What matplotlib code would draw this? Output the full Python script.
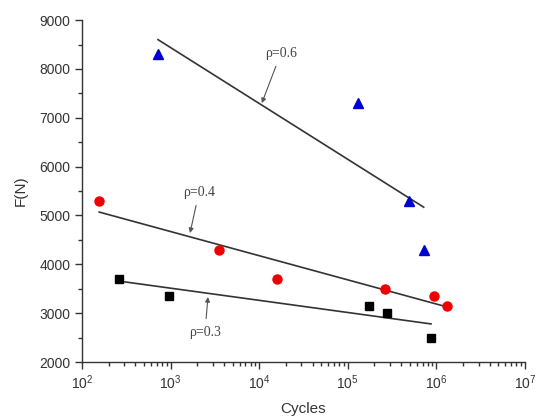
import matplotlib
matplotlib.use("Agg")
import matplotlib.pyplot as plt
from matplotlib.ticker import LogLocator, MultipleLocator, NullFormatter

# data
cycles_06 = [720, 1.3e5, 4.9e5, 7.2e5]
force_06 = [8300, 7300, 5300, 4300]
cycles_04 = [156, 3500, 1.58e4, 2.6e5, 9.4e5, 1.32e6]
force_04 = [5300, 4300, 3700, 3500, 3350, 3150]
cycles_03 = [262, 960, 1.74e5, 2.8e5, 8.7e5]
force_03 = [3700, 3350, 3150, 3000, 2500]

# fitted lines (end points)
fit_x_06 = [720, 7.2e5]
fit_y_06 = [8600, 5170]
fit_x_04 = [156, 1.19e6]
fit_y_04 = [5070, 3150]
fit_x_03 = [305, 8.7e5]
fit_y_03 = [3640, 2780]

plt.rcParams['font.family'] = ['Liberation Sans', 'DejaVu Sans']

fig = plt.figure(figsize=(5.4, 4.19), dpi=100)
ax = fig.add_axes([0.152, 0.136, 0.820, 0.816])

line_kw = dict(color='#333333', linewidth=1.2)
ax.plot(fit_x_06, fit_y_06, **line_kw)
ax.plot(fit_x_04, fit_y_04, **line_kw)
ax.plot(fit_x_03, fit_y_03, **line_kw)

ax.plot(cycles_06, force_06, '^', color='#0000d0', markersize=7, linestyle='none')
ax.plot(cycles_04, force_04, 'o', color='#ee0000', markersize=6.5, linestyle='none')
ax.plot(cycles_03, force_03, 's', color='black', markersize=5.5, linestyle='none')

ax.set_xscale('log')
ax.set_xlim(1e2, 1e7)
ax.set_ylim(2000, 9000)

ax.xaxis.set_major_locator(LogLocator(base=10, numticks=10))
ax.xaxis.set_minor_locator(LogLocator(base=10, subs=range(2, 10), numticks=10))
ax.xaxis.set_minor_formatter(NullFormatter())
ax.yaxis.set_major_locator(MultipleLocator(1000))
ax.yaxis.set_minor_locator(MultipleLocator(500))

ax.spines['top'].set_visible(False)
ax.spines['right'].set_visible(False)
for s in ['left', 'bottom']:
    ax.spines[s].set_color('#333333')
    ax.spines[s].set_linewidth(1.0)

ax.tick_params(which='major', direction='out', length=5, width=1, color='#333333',
               labelsize=10, labelcolor='#333333')
ax.tick_params(which='minor', direction='out', length=3, width=1, color='#333333')

ax.set_xlabel('Cycles', fontsize=11, color='#333333', labelpad=7)
ax.set_ylabel('F(N)', fontsize=11, color='#333333', labelpad=8)

# rho labels with arrows
ann_kw = dict(fontsize=10, family='Liberation Serif', color='#444444', ha='center', va='center',
              arrowprops=dict(arrowstyle='-|>', color='#555555', lw=0.8,
                              mutation_scale=7, shrinkA=3, shrinkB=0))
ax.annotate('ρ=0.6', xy=(1.07e4, 7300), xytext=(1.76e4, 8325), **ann_kw)
ax.annotate('ρ=0.4', xy=(1656, 4640), xytext=(2090, 5480), **ann_kw)
ax.annotate('ρ=0.3', xy=(2640, 3330), xytext=(2440, 2614), **ann_kw)

fig.savefig('out.png', dpi=100)
